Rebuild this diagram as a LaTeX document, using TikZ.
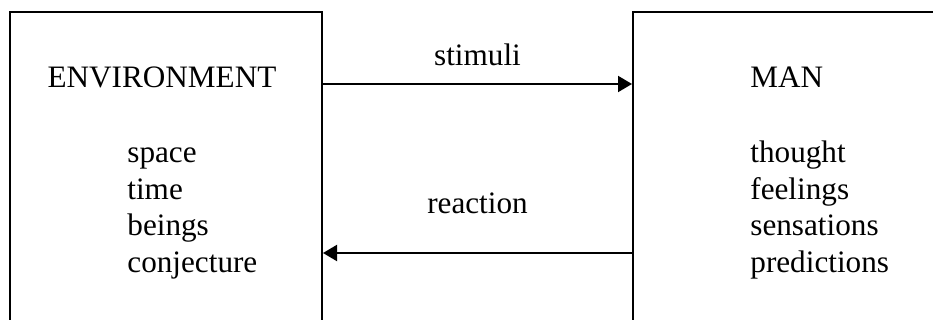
\documentclass[tikz,border=0pt]{standalone}
\usepackage{fontspec}
\setmainfont{Liberation Serif}
\usepackage{tikz}
\usetikzlibrary{arrows.meta,positioning,calc}
\tikzset{
         block/.style={draw,line width=1pt,rectangle,inner sep=0pt},
         flow/.style={line width=1pt,-{Triangle[length=7pt,width=8pt]}},
         word/.style={inner sep=0pt,anchor=base west,font=\fontsize{15.6}{18}\selectfont}
        }

\begin{document}
\begin{tikzpicture}[x=0.5pt,y=-0.5pt]
      \useasboundingbox (0,0) rectangle (933,320); % frame
      \clip (0,0) rectangle (933,320);
      \node[block,minimum width=156pt,minimum height=170pt] (env) at (166,182) {}; % environment box
      \node[block,minimum width=170pt,minimum height=170pt] (man) at (803,182) {}; % man box
      \node[word,anchor=base] (envtitle) at (162,88) {ENVIRONMENT}; % title
      \node[word] (space) at (127,163) {space};
      \node[word] (time) at (127,199.5) {time};
      \node[word] (beings) at (127,236) {beings};
      \node[word] (conj) at (127,272.5) {conjecture};
      \node[word] (mantitle) at (750,88) {MAN}; % title
      \node[word] (thought) at (750,163) {thought};
      \node[word] (feel) at (750,199.5) {feelings};
      \node[word] (sens) at (750,236) {sensations};
      \node[word] (pred) at (750,272.5) {predictions};
      \coordinate (top) at (0,84);
      \coordinate (bot) at (0,253);
      \draw[flow] (env.east |- top) -- (man.west |- top)
            node[word,anchor=base,midway,yshift=9pt] (stim) {stimuli}; % upper arrow
      \draw[flow] (man.west |- bot) -- (env.east |- bot)
            node[word,anchor=base,midway,yshift=19.5pt] (react) {reaction}; % lower arrow
\end{tikzpicture}
\end{document}
